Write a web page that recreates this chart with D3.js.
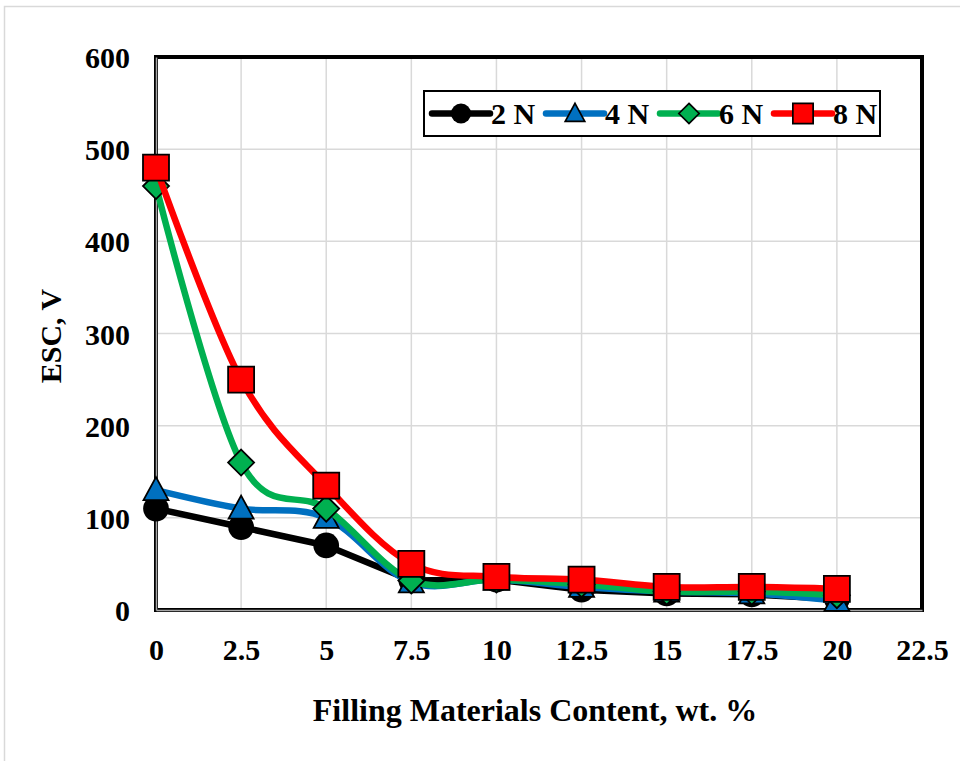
<!DOCTYPE html>
<html>
<head>
<meta charset="utf-8">
<script src="https://cdn.jsdelivr.net/npm/d3@7"></script>
<style>
  body { margin: 0; background: #fff; }
  text { font-family: "Liberation Serif", "Times New Roman", serif; font-weight: bold; fill: #000; }
</style>
</head>
<body>
<div id="chart"></div>
<script>
// filler content, wt. %
const fillContent = [0, 2.5, 5, 7.5, 10, 12.5, 15, 17.5, 20];
const xTicks = [0, 2.5, 5, 7.5, 10, 12.5, 15, 17.5, 20, 22.5];
const yTicks = [0, 100, 200, 300, 400, 500, 600];

// ESC, V for each load
const esc2N = [110, 90, 70, 32, 33, 22, 18, 17, 12];
const esc4N = [130, 110, 100, 30, 33, 25, 20, 18, 10];
const esc6N = [460, 160, 110, 32, 33, 28, 20, 20, 16];
const esc8N = [480, 250, 135, 50, 36, 33, 25, 25, 23];

const seriesNames = ['2 N', '4 N', '6 N', '8 N'];

const series = [
  { name: seriesNames[0], values: esc2N, color: '#000000', marker: 'circle', smooth: false },
  { name: seriesNames[1], values: esc4N, color: '#0070C0', marker: 'triangle', smooth: true },
  { name: seriesNames[2], values: esc6N, color: '#00B050', marker: 'diamond', smooth: true },
  { name: seriesNames[3], values: esc8N, color: '#FF0000', marker: 'square', smooth: true },
];

const totalWidth = 960;
const totalHeight = 761;
const margin = { top: 57, right: 38, bottom: 151, left: 156 };
const width = totalWidth - margin.left - margin.right;
const height = totalHeight - margin.top - margin.bottom;

const svgRoot = d3.select('#chart')
  .append('svg')
  .attr('width', totalWidth)
  .attr('height', totalHeight);

// outer chart frame
svgRoot.append('rect')
  .attr('x', 4.5).attr('y', 6.5)
  .attr('width', 970).attr('height', 780)
  .attr('fill', '#fff')
  .attr('stroke', '#d9d9d9')
  .attr('stroke-width', 1.5);

const svg = svgRoot.append('g')
  .attr('transform', `translate(${margin.left}, ${margin.top})`);

const xScale = d3.scaleLinear().domain([0, 22.5]).range([0, width]);
const yScale = d3.scaleLinear().domain([0, 600]).range([height, 0]);

// gridlines
svg.append('g')
  .selectAll('line')
  .data(xTicks.slice(1))
  .join('line')
  .attr('x1', (d) => xScale(d)).attr('x2', (d) => xScale(d))
  .attr('y1', 0).attr('y2', height)
  .attr('stroke', '#d9d9d9').attr('stroke-width', 1.5);

svg.append('g')
  .selectAll('line')
  .data(yTicks.slice(1))
  .join('line')
  .attr('x1', 0).attr('x2', width)
  .attr('y1', (d) => yScale(d)).attr('y2', (d) => yScale(d))
  .attr('stroke', '#d9d9d9').attr('stroke-width', 1.5);

// thick plot border
svg.append('rect')
  .attr('x', 0).attr('y', 0)
  .attr('width', width).attr('height', height)
  .attr('fill', 'none')
  .attr('stroke', '#000')
  .attr('stroke-width', 4);

// axes (gray inner line over the black border)
svg.append('g')
  .attr('transform', `translate(0, ${height})`)
  .call(d3.axisBottom(xScale).tickValues(xTicks).tickSize(0).tickFormat((d) => `${d}`))
  .call((g) => g.select('.domain').attr('stroke', '#a6a6a6').attr('stroke-width', 1.5))
  .selectAll('text')
  .attr('dy', 0)
  .attr('y', 50)
  .style('font-size', '30px');

svg.append('g')
  .call(d3.axisLeft(yScale).tickValues(yTicks).tickSize(0).tickFormat((d) => `${d}`))
  .call((g) => g.select('.domain').attr('stroke', '#a6a6a6').attr('stroke-width', 1.5))
  .selectAll('text')
  .attr('x', -26)
  .attr('dy', '0.35em')
  .style('font-size', '30px');

svgRoot.selectAll('.tick text').attr('fill', '#000').style('font-family', '"Liberation Serif", serif');

// axis titles
svgRoot.append('text')
  .attr('text-anchor', 'middle')
  .attr('x', 535)
  .attr('y', 721)
  .style('font-size', '32px')
  .text('Filling Materials Content, wt. %');

svgRoot.append('text')
  .attr('text-anchor', 'middle')
  .attr('transform', 'translate(61, 336) rotate(-90)')
  .style('font-size', '30px')
  .text('ESC, V');

// markers
const markerPath = (type) => {
  if (type === 'circle') return d3.symbol(d3.symbolCircle, 520)();
  if (type === 'triangle') return 'M0,-13L12.5,10L-12.5,10Z';
  if (type === 'diamond') return 'M0,-13L13,0L0,13L-13,0Z';
  return 'M-13,-13H13V13H-13Z';
};

const lineGen = (smooth) => d3.line()
  .x((d) => xScale(d[0]))
  .y((d) => yScale(d[1]))
  .curve(smooth ? d3.curveCardinal.tension(0) : d3.curveLinear);

series.forEach((s) => {
  const pts = fillContent.map((x, i) => [x, s.values[i]]);
  svg.append('path')
    .datum(pts)
    .attr('fill', 'none')
    .attr('stroke', s.color)
    .attr('stroke-width', 6.5)
    .attr('stroke-linejoin', 'round')
    .attr('stroke-linecap', 'round')
    .attr('d', lineGen(s.smooth));

  svg.append('g')
    .selectAll('path')
    .data(pts)
    .join('path')
    .attr('transform', (d) => `translate(${xScale(d[0])}, ${yScale(d[1])})`)
    .attr('d', markerPath(s.marker))
    .attr('fill', s.color)
    .attr('stroke', '#000')
    .attr('stroke-width', s.marker === 'circle' ? 0 : 1.8);
});

// legend
const legend = svgRoot.append('g').attr('transform', 'translate(424, 91)');
legend.append('rect')
  .attr('width', 456).attr('height', 45)
  .attr('fill', '#fff')
  .attr('stroke', '#000')
  .attr('stroke-width', 2);

const legendX = d3.scaleBand().domain(seriesNames).range([4, 460]);

series.forEach((s) => {
  const g = legend.append('g').attr('transform', `translate(${legendX(s.name)}, 22.5)`);
  g.append('line')
    .attr('x1', 4).attr('x2', 62)
    .attr('stroke', s.color)
    .attr('stroke-width', 6.5)
    .attr('stroke-linecap', 'round');
  g.append('path')
    .attr('transform', 'translate(33, 0) scale(0.78)')
    .attr('d', markerPath(s.marker))
    .attr('fill', s.color)
    .attr('stroke', '#000')
    .attr('stroke-width', s.marker === 'circle' ? 0 : 2.2);
  g.append('text')
    .attr('x', 63)
    .attr('y', 10)
    .style('font-size', '30px')
    .text(s.name);
});
</script>
</body>
</html>
